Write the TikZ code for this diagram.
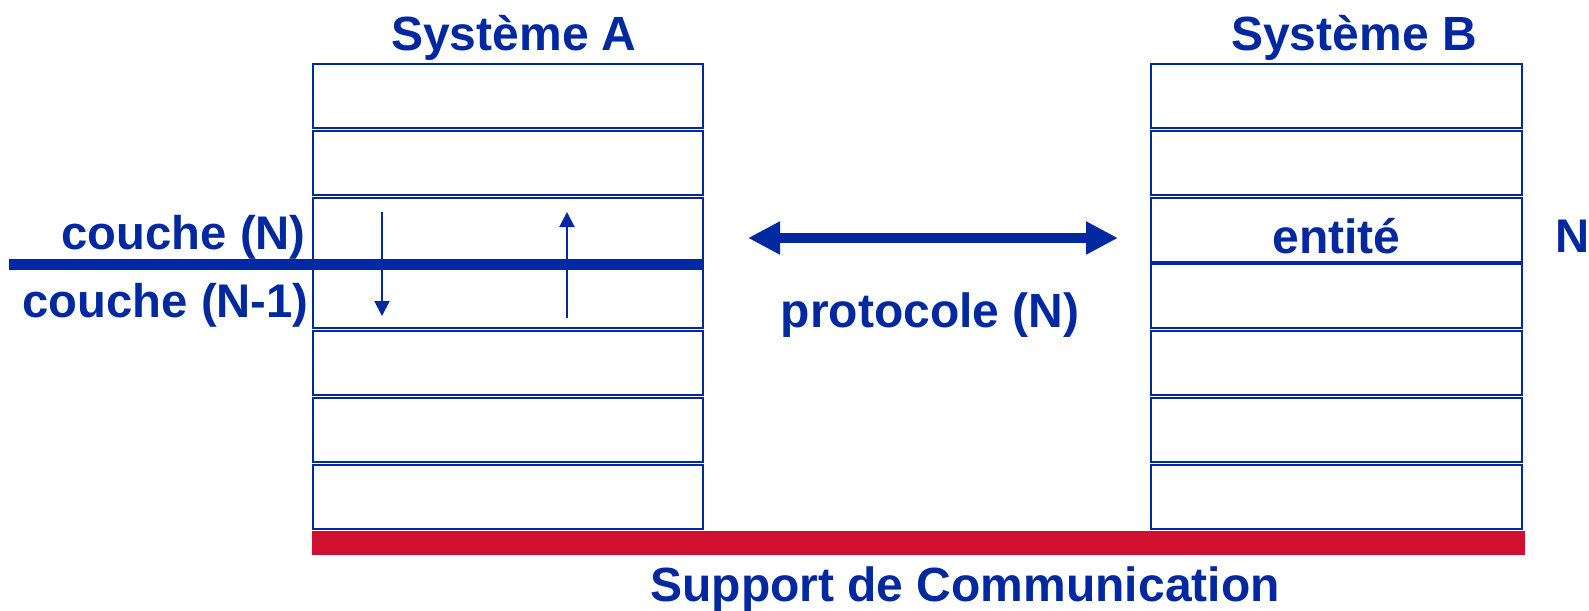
\documentclass[tikz,border=0pt]{standalone}
\usepackage{fontspec}
\setmainfont{Liberation Sans}
\usetikzlibrary{arrows.meta,positioning}

\definecolor{osiblue}{RGB}{0,40,160}
\definecolor{osired}{RGB}{208,16,48}

\tikzset{
  lbl/.style={text=osiblue, inner sep=0pt, font=\bfseries\fontsize{24}{28}\selectfont},
  side/.style={lbl, font=\bfseries\fontsize{23.6}{28}\selectfont},
  layerA/.style={draw=osiblue, line width=1pt, minimum width=195pt, minimum height=32pt, inner sep=0pt},
  layerB/.style={layerA, minimum width=185.5pt},
  cutline/.style={draw=osiblue, line width=5.5pt},
  proto/.style={draw=osiblue, line width=5pt, {Triangle[length=16pt,width=15.5pt]}-{Triangle[length=16pt,width=15.5pt]}},
  prim/.style={draw=osiblue, line width=1pt, -{Triangle[length=7.5pt,width=7.5pt]}},
}

\begin{document}
\begin{tikzpicture}[x=0.5pt,y=-0.5pt]
\useasboundingbox (0,0) rectangle (1589,610);

% les deux piles de couches
\foreach \i in {1,...,7} {
  \node[layerA] (a\i) at (508, {96.35+66.7*(\i-1)}) {};
  \node[layerB] (b\i) at (1336.5, {96.35+66.7*(\i-1)}) {};
}

\node[lbl] (sysA) at (514,38) {Système A};
\node[lbl] (sysB) at (1354,38) {Système B};

% support physique
\node[fill=osired, minimum width=606.5pt, minimum height=12pt, inner sep=0pt] (support) at (918.5,543) {};
\node[lbl] (supp) at (965,589) {Support de Communication};

% frontiere entre couches N et N-1
\coordinate (cut) at (9,264.5);
\draw[cutline] (cut) -- (cut -| a3.east);

\node[side, anchor=east] (cN) at ([xshift=-3pt,yshift=-4pt]a3.west) {couche (N)};
\node[side, anchor=east] (cN1) at ([xshift=-1.5pt,yshift=-4.5pt]a4.west) {couche (N-1)};

\node[lbl] (ent) at ([yshift=-3pt]b3) {entité};
\node[side, right=16pt of b3, yshift=-3.5pt] (nB) {N};

% primitives de service
\coordinate (dn1) at (382,212);
\coordinate (dn2) at (382,316);
\coordinate (up1) at (567,318);
\coordinate (up2) at (567,212);
\draw[prim] (dn1) -- (dn2);
\draw[prim] (up1) -- (up2);

% protocole
\coordinate (pl) at (748,238);
\coordinate (pr) at (1118,238);
\draw[proto] (pl) -- (pr);
\node[lbl] (prot) at (930,315) {protocole (N)};

\end{tikzpicture}
\end{document}
